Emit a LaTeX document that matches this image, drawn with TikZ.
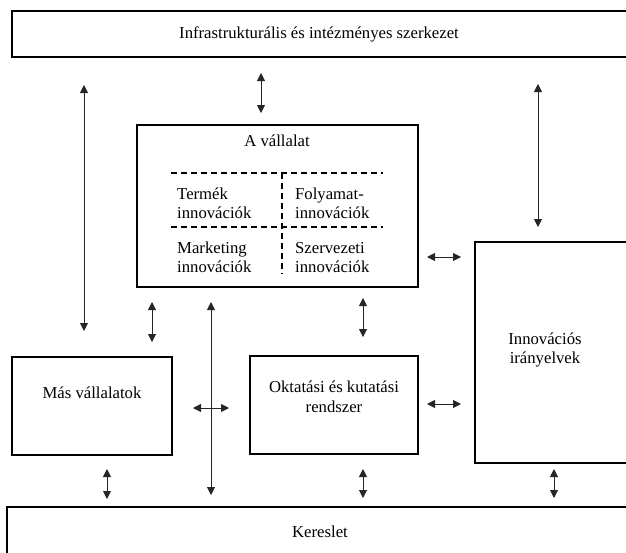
\documentclass[tikz,border=0pt]{standalone}
\usepackage{fontspec}
\setmainfont{Liberation Serif}
\usetikzlibrary{arrows.meta}
\tikzset{
  box/.style={draw=black, line width=1.3pt, fill=none},
  lbl/.style={inner sep=0pt, align=center, font=\fontsize{16.7}{19.5}\selectfont},
  lbll/.style={inner sep=0pt, align=left, font=\fontsize{16.7}{19.5}\selectfont},
  dbl/.style={draw=black!85, line width=0.9pt, {Triangle[length=8pt,width=8pt]}-{Triangle[length=8pt,width=8pt]}},
  dsh/.style={draw=black, line width=1.3pt, dash pattern=on 6pt off 4pt}
}
\begin{document}
\begin{tikzpicture}[x=1pt,y=-1pt]
\clip (0,0) rectangle (626,552);
\fill[white] (0,0) rectangle (626,552);
% boxes
\draw[box] (12,11) rectangle (632,57);
\node[lbl] (infra) at (319,34) {Infrastrukturális és intézményes szerkezet};
\draw[box] (137,125) rectangle (418,287);
\node[lbl] (vall) at (277,141) {A vállalat};
\draw[box] (475,242) rectangle (640,463);
\node[lbl] (innov) at (545,350) {Innovációs\\irányelvek};
\draw[box] (12,357) rectangle (172,455);
\node[lbl] (mas) at (92,393) {Más vállalatok};
\draw[box] (250,356) rectangle (418,454);
\node[lbl] (okt) at (334,397) {Oktatási és kutatási\\rendszer};
\draw[box] (7,507) rectangle (640,570);
\node[lbl] (ker) at (320,532) {Kereslet};
% dashed grid
\coordinate (d1a) at (171,173); \coordinate (d1b) at (383,173);
\coordinate (d2a) at (171,227); \coordinate (d2b) at (383,227);
\coordinate (dva) at (282,173); \coordinate (dvb) at (282,274);
\draw[dsh] (d1a) -- (d1b);
\draw[dsh] (d2a) -- (d2b);
\draw[dsh] (dva) -- (dvb);
\node[lbll, anchor=west] (termek) at (177,203.5) {Termék\\innovációk};
\node[lbll, anchor=west] (folyam) at (295,203.5) {Folyamat-\\innovációk};
\node[lbll, anchor=west] (mark) at (177,257.5) {Marketing\\innovációk};
\node[lbll, anchor=west] (szerv) at (295,257.5) {Szervezeti\\innovációk};
% arrows
\coordinate (a1t) at (84,85);   \coordinate (a1b) at (84,331);
\coordinate (a2t) at (261,73);  \coordinate (a2b) at (261,113);
\coordinate (a3t) at (538,84);  \coordinate (a3b) at (538,227);
\coordinate (a4t) at (152,302); \coordinate (a4b) at (152,342);
\coordinate (a5t) at (211,302); \coordinate (a5b) at (211,495);
\coordinate (a6t) at (363,298); \coordinate (a6b) at (363,337);
\coordinate (a7l) at (193,408); \coordinate (a7r) at (229,408);
\coordinate (a8l) at (427,257); \coordinate (a8r) at (461,257);
\coordinate (a9l) at (427,404); \coordinate (a9r) at (461,404);
\coordinate (b1t) at (107,469); \coordinate (b1b) at (107,499);
\coordinate (b2t) at (363,469); \coordinate (b2b) at (363,498);
\coordinate (b3t) at (554,469); \coordinate (b3b) at (554,498);
\draw[dbl] (a1t) -- (a1b);
\draw[dbl] (a2t) -- (a2b);
\draw[dbl] (a3t) -- (a3b);
\draw[dbl] (a4t) -- (a4b);
\draw[dbl] (a5t) -- (a5b);
\draw[dbl] (a6t) -- (a6b);
\draw[dbl] (a7l) -- (a7r);
\draw[dbl] (a8l) -- (a8r);
\draw[dbl] (a9l) -- (a9r);
\draw[dbl] (b1t) -- (b1b);
\draw[dbl] (b2t) -- (b2b);
\draw[dbl] (b3t) -- (b3b);
\end{tikzpicture}
\end{document}
